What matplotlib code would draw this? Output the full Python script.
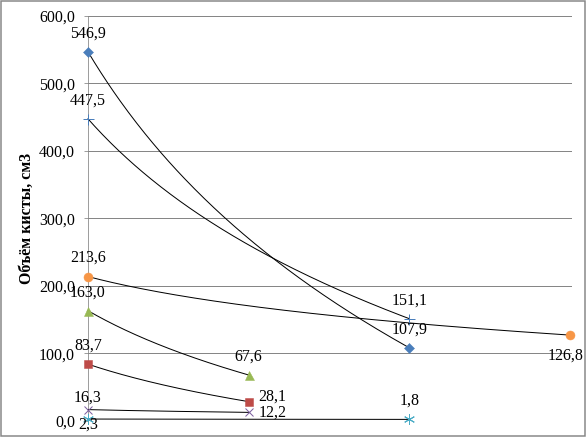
import numpy as np
import matplotlib
matplotlib.use('Agg')
import matplotlib.pyplot as plt
from matplotlib.ticker import FuncFormatter, MultipleLocator
from matplotlib.patches import Rectangle

# point x positions (stage number) and cyst volumes, one pair per series
x_diamond = [1, 3]
y_diamond = [546.9, 107.9]
x_square = [1, 2]
y_square = [83.7, 28.1]
x_triangle = [1, 2]
y_triangle = [163.0, 67.6]
x_cross = [1, 2]
y_cross = [16.3, 12.2]
x_star = [1, 3]
y_star = [2.3, 1.8]
x_circle = [1, 4]
y_circle = [213.6, 126.8]
x_plus = [1, 3]
y_plus = [447.5, 151.1]

ylabel = 'Объём кисты, см3'

# label placement per point: 'above', 'below', 'right'
series = [
    (x_diamond, y_diamond, 'D', '#4A7EBB', 7, ['above', 'above']),
    (x_square, y_square, 's', '#BE4B48', 8.5, ['above', 'right_up']),
    (x_triangle, y_triangle, '^', '#98B954', 9, ['above', 'above']),
    (x_cross, y_cross, 'x', '#7D5FA0', 8, ['above_near', 'right']),
    (x_star, y_star, (6, 2, 0), '#4BACC6', 11, ['below', 'above']),
    (x_circle, y_circle, 'o', '#F79646', 9, ['above', 'below']),
    (x_plus, y_plus, '+', '#4A7EBB', 11, ['above', 'above']),
]

offsets = {
    'above': (0, 18.5),
    'above_near': (0, 12),
    'below': (0, -6),
    'right': (10, 0),
    'right_up': (10, 5),
}

plt.rcParams['font.family'] = ['Liberation Serif', 'DejaVu Serif']
fs = 16

fig = plt.figure(figsize=(586/72, 437/72), dpi=72)
ax = fig.add_axes([88/586, 1-420.6/437, (572-88)/586, (420.6-16)/437])

def fmt(v):
    return f'{v:.1f}'.replace('.', ',')

for xs, ys, mk, col, ms, pos in series:
    # logarithmic trendline through the points
    b, a = np.polyfit(np.log(xs), ys, 1)
    xx = np.linspace(xs[0], xs[-1], 200)
    ax.plot(xx, a + b*np.log(xx), color='black', lw=1, zorder=3, clip_on=False)
    thin = mk in ('x', '+') or isinstance(mk, tuple)
    ax.plot(xs, ys, linestyle='none', marker=mk, color=col, markersize=ms,
            markeredgewidth=1 if thin else 0.5, zorder=4, clip_on=False)
    for xv, yv, p in zip(xs, ys, pos):
        off = offsets[p]
        if p == 'below' and xv == 4:
            off = (-4, -21)
        ha = 'left' if p.startswith('right') else 'center'
        ax.annotate(fmt(yv), (xv, yv), xytext=off, textcoords='offset points',
                    ha=ha, va='center', fontsize=fs, zorder=5, annotation_clip=False)

ax.set_xlim(1, 4.012)
ax.set_ylim(0, 600)
ax.yaxis.set_major_locator(MultipleLocator(100))
ax.yaxis.set_major_formatter(FuncFormatter(lambda v, p: fmt(v)))
ax.grid(axis='y', color='#868686', lw=1)
ax.set_axisbelow(True)
ax.set_xticks([])
for s in ['top', 'right', 'bottom']:
    ax.spines[s].set_visible(False)
ax.spines['left'].set_color('#868686')
ax.tick_params(axis='y', length=4, color='#868686', labelsize=fs, pad=9)
fig.text(27/586, 1-218/437, ylabel, rotation=90, ha='center', va='center',
         fontsize=fs, fontweight='bold')

fig.patches.append(Rectangle((0.001, 0.002), 0.997, 0.996, transform=fig.transFigure,
                             fill=False, edgecolor='#868686', lw=1.5))

fig.savefig('out.png', dpi=72)
